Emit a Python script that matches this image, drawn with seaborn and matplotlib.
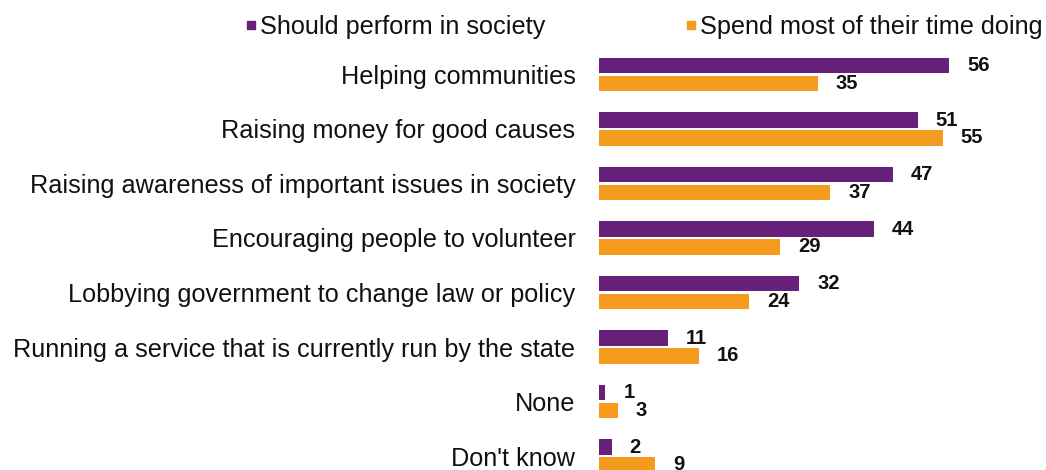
import matplotlib
matplotlib.use("Agg")
import matplotlib.pyplot as plt
from matplotlib.lines import Line2D
import seaborn as sns
import pandas as pd

categories = [
    "Helping communities",
    "Raising money for good causes",
    "Raising awareness of important issues in society",
    "Encouraging people to volunteer",
    "Lobbying government to change law or policy",
    "Running a service that is currently run by the state",
    "None",
    "Don't know",
]
should_perform = [56, 51, 47, 44, 32, 11, 1, 2]
spend_time = [35, 55, 37, 29, 24, 16, 3, 9]
series_names = ["Should perform in society", "Spend most of their time doing"]
colors = ["#68217A", "#F59C1E"]

df = pd.DataFrame({
    "category": categories * 2,
    "value": should_perform + spend_time,
    "series": [series_names[0]] * len(categories) + [series_names[1]] * len(categories),
})

sns.set_theme(style="white")
plt.rcParams["font.family"] = ["Liberation Sans", "DejaVu Sans"]

W, H = 1046, 470
fig = plt.figure(figsize=(W / 100, H / 100), dpi=100)
ax_left, ax_top = 599, 40
ax = fig.add_axes([ax_left / W, 0, (W - ax_left) / W, (H - ax_top) / H])

sns.barplot(
    data=df, x="value", y="category", hue="series", order=categories,
    hue_order=series_names, palette=colors, orient="h",
    width=0.66, gap=0.14, dodge=True, legend=False, ax=ax,
    saturation=1, edgecolor="none",
)

px_per_unit = 6.25
ax.set_xlim(0, (W - ax_left) / px_per_unit)
pitch = 54.5
top = -(74.5 - ax_top) / pitch
bottom = 7 + (H - 456) / pitch
ax.set_ylim(bottom, top)

for cont in ax.containers:
    ax.bar_label(cont, fmt="%d", padding=13, fontsize=14.5, fontweight="bold", color="#111111")

ax.set_xlabel("")
ax.set_ylabel("")
ax.set_xticks([])
ax.tick_params(axis="y", length=0, pad=17, labelsize=18.2, labelcolor="#111111")
for s in ax.spines.values():
    s.set_visible(False)

# one legend entry per series, placed side by side above the bars
for name, c, x0 in zip(series_names, colors, [245, 685]):
    h = Line2D([], [], marker="s", linestyle="none", markersize=6,
               markerfacecolor=c, markeredgecolor=c)
    leg = fig.legend([h], [name], loc="center left", bbox_to_anchor=(x0 / W, 1 - 27 / H),
                     frameon=False, fontsize=18.2, handletextpad=0.1,
                     handlelength=0.5, borderaxespad=0, borderpad=0,
                     labelcolor="#111111")

fig.savefig("out.png", dpi=100)
